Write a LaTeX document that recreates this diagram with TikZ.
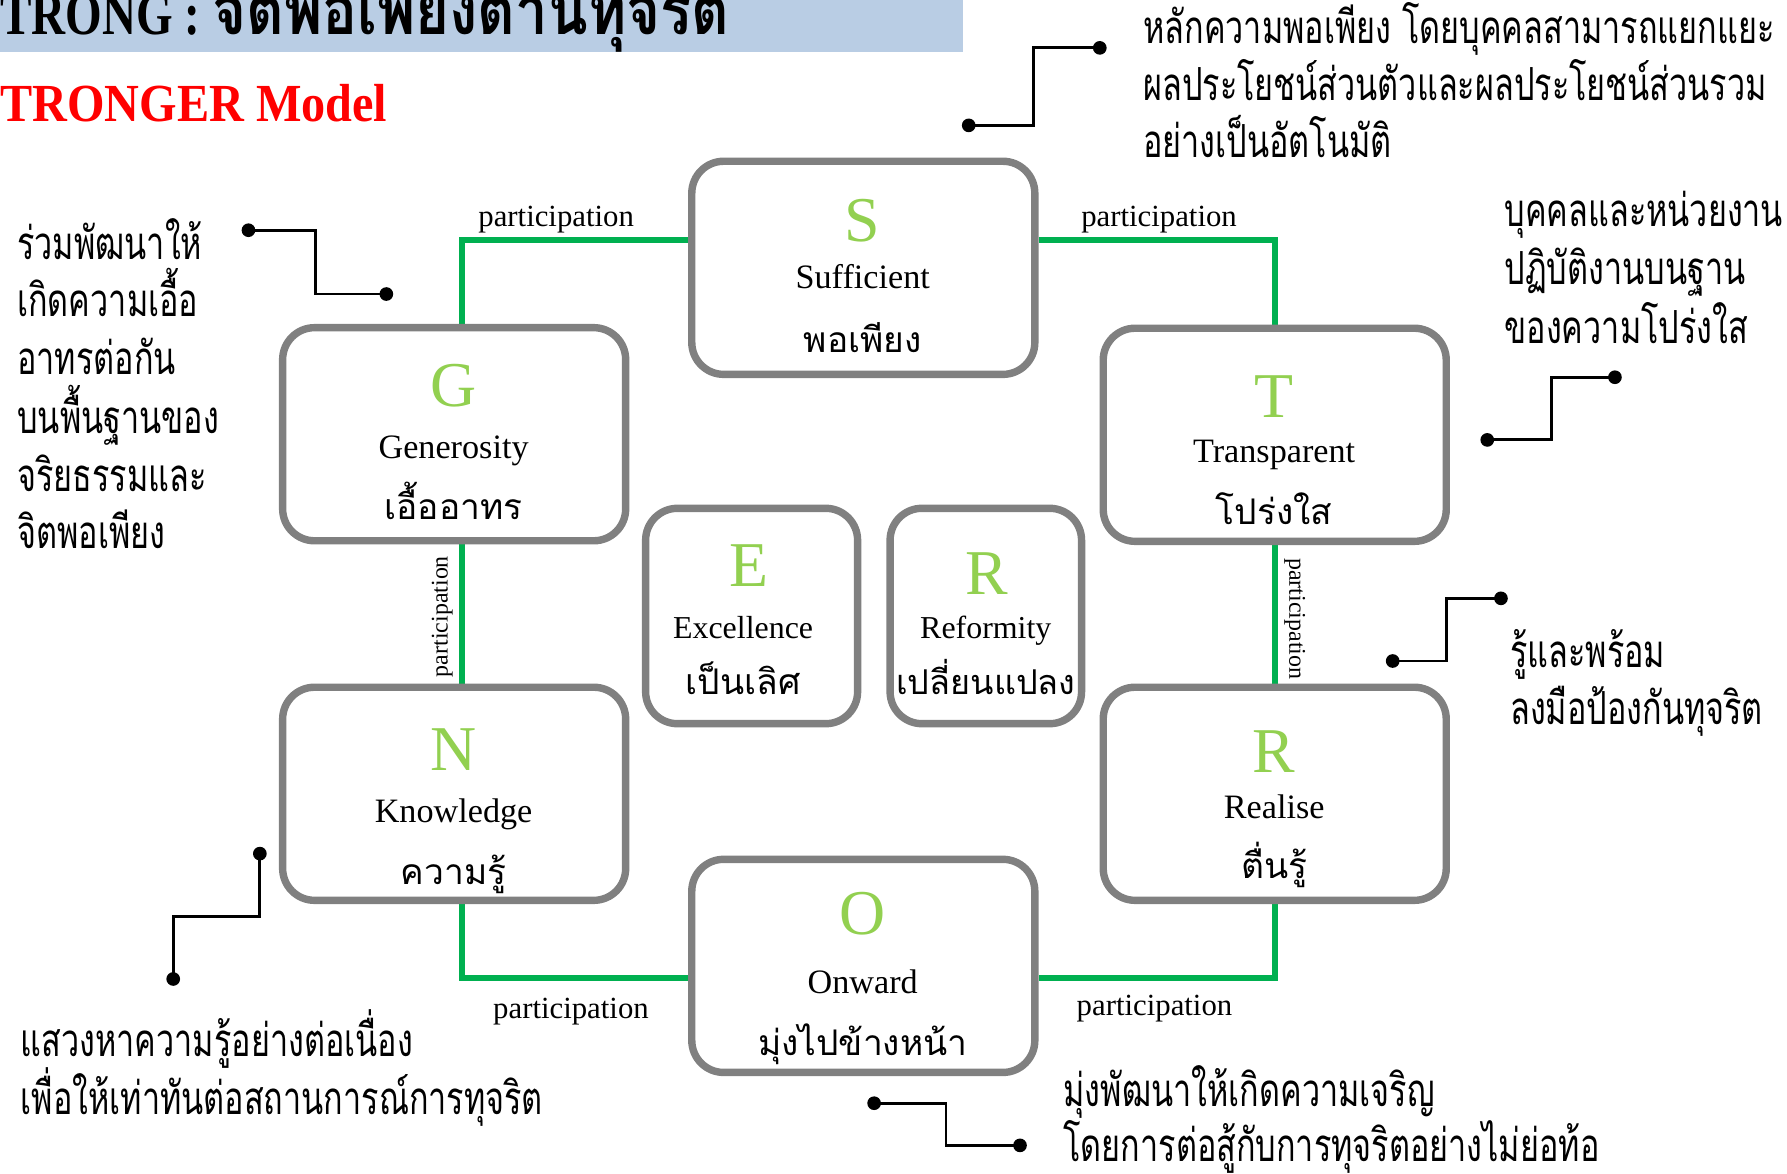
\documentclass[tikz,border=0pt]{standalone}
\usepackage{fontspec}
\setmainfont{Liberation Serif}
\newfontfamily\thaifont[Script=Thai]{Loma}
\newfontfamily\thainarrow[Script=Thai,FakeStretch=0.71]{Loma}
\newfontfamily\latinnarrow[FakeStretch=0.78]{Liberation Serif}
\newfontfamily\modelfont[FakeStretch=0.9]{Liberation Serif}
\newfontfamily\thaititle[Script=Thai,FakeStretch=0.85]{Loma}
\usetikzlibrary{backgrounds}
\definecolor{bandblue}{RGB}{185,205,228}
\definecolor{linkgreen}{RGB}{0,176,80}
\definecolor{lettergreen}{RGB}{146,208,80}
\definecolor{boxgray}{RGB}{128,128,128}
\tikzset{
  tbox/.style={draw=boxgray,line width=6.5pt,rounded corners=28pt,fill=white,
    minimum width=301pt,minimum height=187pt,inner sep=0pt},
  smallbox/.style={tbox,minimum width=186pt,minimum height=189pt},
  link/.style={draw=linkgreen,line width=5pt},
  partlbl/.style={font=\fontsize{27}{27}\selectfont,inner sep=0pt,anchor=base},
  vpartlbl/.style={font=\fontsize{21}{21}\selectfont,inner sep=0pt},
  bigletter/.style={text=lettergreen,font=\fontsize{56}{56}\selectfont,inner sep=0pt,anchor=base},
  engword/.style={font=\fontsize{30}{30}\selectfont,inner sep=0pt,anchor=base},
  thaiword/.style={font=\thaifont\fontsize{31}{31}\selectfont,inner sep=0pt,anchor=base},
  note/.style={font=\thainarrow\fontsize{40}{40}\selectfont,inner sep=0pt,anchor=base west},
  callout/.style={line width=2.5pt},
}
\begin{document}
\begin{tikzpicture}[x=1pt,y=1pt,yscale=-1,xscale=1]
	\useasboundingbox (0,0) rectangle (1568,1030);
	\clip (0,0) rectangle (1568,1030);

	%Title band
	\fill[bandblue] (0,0) rectangle (845,46);
	\node[inner sep=0pt,anchor=base west] (title) at (0,30) {\latinnarrow\bfseries\fontsize{53}{53}\selectfont TRONG : \thaititle\bfseries\fontsize{60}{60}\selectfont จิตพอเพียงต้านทุจริต};
	\node[inner sep=0pt,anchor=base west,text=red] (model) at (0,107) {\modelfont\bfseries\fontsize{47}{47}\selectfont TRONGER Model};

	%Boxes
	\node[tbox] (S) at (757.5,235) {};
	\node[tbox] (G) at (398.5,381) {};
	\node[tbox] (T) at (1118.5,381.5) {};
	\node[tbox] (N) at (398.5,696.5) {};
	\node[tbox] (Rl) at (1118.5,696.5) {};
	\node[tbox] (O) at (757.5,847.5) {};
	\node[smallbox] (E) at (659.5,540.5) {};
	\node[smallbox,minimum width=168pt] (Rf) at (865,540.5) {};

	%Box texts
	\node[bigletter] (S1) at (757,212) {S};
	\node[engword] (S2) at (757,253) {Sufficient};
	\node[thaiword] (S3) at (757,309) {พอเพียง};
	\node[bigletter] (G1) at (398,357) {G};
	\node[engword] (G2) at (398,402) {Generosity};
	\node[thaiword] (G3) at (398,456) {เอื้ออาทร};
	\node[bigletter] (T1) at (1118,366) {T};
	\node[engword] (T2) at (1118,406) {Transparent};
	\node[thaiword] (T3) at (1118,460) {โปร่งใส};
	\node[bigletter] (N1) at (398,676) {N};
	\node[engword] (N2) at (398,722) {Knowledge};
	\node[thaiword] (N3) at (398,776) {ความรู้};
	\node[bigletter] (R1) at (1118,678) {R};
	\node[engword] (R2) at (1118,718) {Realise};
	\node[thaiword] (R3) at (1118,771) {ตื่นรู้};
	\node[bigletter] (O1) at (757,820) {O};
	\node[engword] (O2) at (757,872) {Onward};
	\node[thaiword] (O3) at (757,926) {มุ่งไปข้างหน้า};
	\node[bigletter] (E1) at (657,515) {E};
	\node[engword,font=\fontsize{28}{28}\selectfont] (E2) at (652,560) {Excellence};
	\node[thaiword] (E3) at (652,609) {เป็นเลิศ};
	\node[bigletter] (F1) at (866,522) {R};
	\node[engword,font=\fontsize{28}{28}\selectfont] (F2) at (865,560) {Reformity};
	\node[thaiword,font=\thaifont\fontsize{30}{30}\selectfont] (F3) at (865,609) {เปลี่ยนแปลง};

	%Participation links
	\begin{scope}[on background layer]
	\draw[link] (G.86) |- (S.171);
	\draw[link] (S.9) -| (T.north);
	\draw[link] (G.274) -- (N.86);
	\draw[link] (T.south) -- (Rl.north);
	\draw[link] (N.274) |- (O.184);
	\draw[link] (Rl.south) |- (O.356);
	\end{scope}
	\node[partlbl] (p1) at (488,199) {participation};
	\node[partlbl] (p2) at (1017,199) {participation};
	\node[partlbl] (p3) at (501,894) {participation};
	\node[partlbl] (p4) at (1013,891) {participation};
	\node[vpartlbl,rotate=90] (p5) at (388,541) {participation};
	\node[vpartlbl,rotate=-90] (p6) at (1136,543) {participation};

	%Callout S
	\coordinate (cs1) at (850,110);
	\coordinate (cs2) at (965,42);
	\draw[callout] (cs1) -- (907,110) -- (907,42) -- (cs2);
	\fill (cs1) circle (6) (cs2) circle (6);
	\node[note] (ns1) at (1003,38) {หลักความพอเพียง โดยบุคคลสามารถแยกแยะ};
	\node[note] (ns2) at (1003,88) {ผลประโยชน์ส่วนตัวและผลประโยชน์ส่วนรวม};
	\node[note] (ns3) at (1003,138) {อย่างเป็นอัตโนมัติ};

	%Callout G
	\coordinate (cg1) at (218,202);
	\coordinate (cg2) at (339,258);
	\draw[callout] (cg1) -- (277,202) -- (277,258) -- (cg2);
	\fill (cg1) circle (6) (cg2) circle (6);
	\node[note] (ng1) at (15,228) {ร่วมพัฒนาให้};
	\node[note] (ng2) at (15,278) {เกิดความเอื้อ};
	\node[note] (ng3) at (15,329) {อาทรต่อกัน};
	\node[note] (ng4) at (15,380) {บนพื้นฐานของ};
	\node[note] (ng5) at (15,431) {จริยธรรมและ};
	\node[note] (ng6) at (15,481) {จิตพอเพียง};

	%Callout T
	\coordinate (ct1) at (1417,331);
	\coordinate (ct2) at (1305,386);
	\draw[callout] (ct1) -- (1361,331) -- (1361,386) -- (ct2);
	\fill (ct1) circle (6) (ct2) circle (6);
	\node[note] (nt1) at (1320,199) {บุคคลและหน่วยงาน};
	\node[note] (nt2) at (1320,250) {ปฏิบัติงานบนฐาน};
	\node[note] (nt3) at (1320,301) {ของความโปร่งใส};

	%Callout R
	\coordinate (cr1) at (1317,525);
	\coordinate (cr2) at (1222,580);
	\draw[callout] (cr1) -- (1269,525) -- (1269,580) -- (cr2);
	\fill (cr1) circle (6) (cr2) circle (6);
	\node[note] (nr1) at (1325,586) {รู้และพร้อม};
	\node[note] (nr2) at (1325,636) {ลงมือป้องกันทุจริต};

	%Callout N
	\coordinate (cn1) at (228,749);
	\coordinate (cn2) at (152,859);
	\draw[callout] (cn1) -- (228,804) -- (152,804) -- (cn2);
	\fill (cn1) circle (6) (cn2) circle (6);
	\node[note] (nn1) at (18,927) {แสวงหาความรู้อย่างต่อเนื่อง};
	\node[note] (nn2) at (18,978) {เพื่อให้เท่าทันต่อสถานการณ์การทุจริต};

	%Callout O
	\coordinate (co1) at (767,968);
	\coordinate (co2) at (895,1005);
	\draw[callout] (co1) -- (830,968) -- (830,1005) -- (co2);
	\fill (co1) circle (6) (co2) circle (6);
	\node[note] (no1) at (933,971) {มุ่งพัฒนาให้เกิดความเจริญ};
	\node[note] (no2) at (933,1019) {โดยการต่อสู้กับการทุจริตอย่างไม่ย่อท้อ};
\end{tikzpicture}
\end{document}
